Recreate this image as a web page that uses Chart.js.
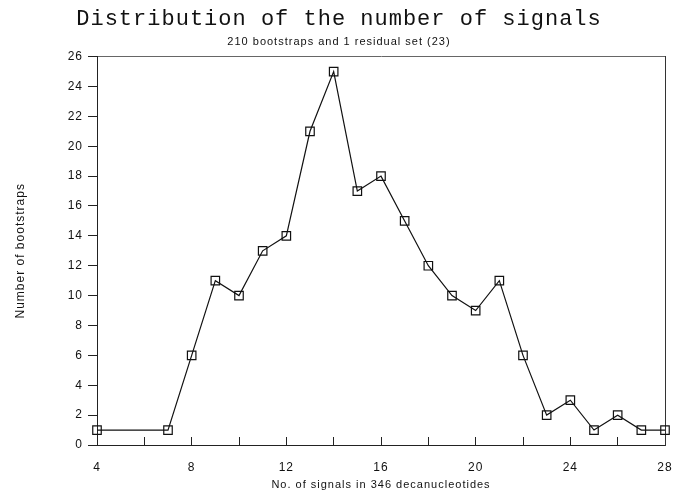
<!DOCTYPE html>
<html>
<head>
<meta charset="utf-8">
<script src="https://cdn.jsdelivr.net/npm/chart.js@4.4.0/dist/chart.umd.min.js"></script>
<style>
  html, body { margin: 0; padding: 0; background: #fff; }
  #wrap { width: 680px; height: 496px; }
</style>
</head>
<body>
<div id="wrap"><canvas id="signals_chart"></canvas></div>
<script>
const signal_counts = [4, 7, 8, 9, 10, 11, 12, 13, 14, 15, 16, 17, 18, 19, 20, 21, 22, 23, 24, 25, 26, 27, 28];
const bootstrap_counts = [1, 1, 6, 11, 10, 13, 14, 21, 25, 17, 18, 15, 12, 10, 9, 11, 6, 2, 3, 1, 2, 1, 1];
const x_label_every = 4;

const points = signal_counts.map((x, i) => ({ x: x, y: bootstrap_counts[i] }));

const small_font = { family: 'Liberation Sans', size: 11 };
const tick_font = { family: 'Liberation Sans', size: 12 };

// spread the letters a bit, like the old plotter lettering
const spacing_plugin = {
  id: 'spacing',
  beforeLayout(chart) { chart.ctx.letterSpacing = '1px'; },
  beforeDraw(chart) { chart.ctx.letterSpacing = '1px'; }
};

const config_signals = {
  type: 'line',
  data: {
    datasets: [{
      label: 'Number of bootstraps',
      data: points,
      borderColor: '#111',
      borderWidth: 1.2,
      backgroundColor: 'rgba(0,0,0,0)',
      pointStyle: 'rect',
      pointRadius: 6,
      pointBorderWidth: 1.2,
      pointBorderColor: '#111',
      pointBackgroundColor: 'rgba(0,0,0,0)',
      tension: 0,
      clip: false
    }]
  },
  options: {
    responsive: true,
    maintainAspectRatio: false,
    animation: false,
    layout: { padding: { left: 13, right: 15, top: 0, bottom: 4 } },
    plugins: {
      legend: { display: false },
      tooltip: { enabled: false },
      title: {
        display: true,
        text: 'Distribution of the number of signals',
        color: '#111',
        font: { family: 'Liberation Mono', size: 22, weight: 'normal' },
        padding: { top: 6, bottom: 0 }
      },
      subtitle: {
        display: true,
        text: '210 bootstraps and 1 residual set (23)',
        color: '#111',
        font: { family: 'Liberation Sans', size: 11 },
        padding: { top: 3, bottom: 8 }
      }
    },
    scales: {
      x: {
        type: 'linear',
        position: 'bottom',
        min: 4,
        max: 28,
        afterFit(scale) {
          scale.height = 47;
          // labels sit low (inward ticks), so don't let their padding eat the right margin
          scale.paddingLeft = 0;
          scale.paddingRight = 0;
        },
        ticks: {
          stepSize: 2,
          color: '#111',
          font: tick_font,
          padding: 23,
          maxRotation: 0,
          autoSkip: false,
          callback: (v) => (v % x_label_every === 0 ? String(v) : '')
        },
        grid: { drawOnChartArea: false, drawTicks: true, tickLength: -8, color: '#222' },
        border: { display: true, color: '#222', width: 1 },
        title: {
          display: true,
          text: 'No. of signals in 346 decanucleotides',
          color: '#111',
          font: small_font,
          padding: 0
        }
      },
      xTop: {
        type: 'linear',
        position: 'top',
        min: 4,
        max: 28,
        afterFit(scale) { scale.height = 0; },
        ticks: { display: false },
        grid: { display: false },
        border: { display: true, color: '#666', width: 1 }
      },
      y: {
        type: 'linear',
        position: 'left',
        min: 0,
        max: 26,
        afterFit(scale) { scale.width = 84; },
        ticks: {
          stepSize: 2,
          color: '#111',
          font: tick_font,
          padding: 5
        },
        grid: { drawOnChartArea: false, drawTicks: true, tickLength: 9, color: '#222' },
        border: { display: true, color: '#222', width: 1 },
        title: {
          display: true,
          text: 'Number of bootstraps',
          color: '#111',
          font: { family: 'Liberation Sans', size: 12 },
          padding: { top: 0, bottom: 0 }
        }
      },
      yRight: {
        type: 'linear',
        position: 'right',
        min: 0,
        max: 26,
        afterFit(scale) { scale.width = 0; },
        ticks: { display: false },
        grid: { display: false },
        border: { display: true, color: '#333', width: 1 }
      }
    }
  },
  plugins: [spacing_plugin]
};

const signals_chart = new Chart(
  document.getElementById('signals_chart'),
  config_signals
);
</script>
</body>
</html>
